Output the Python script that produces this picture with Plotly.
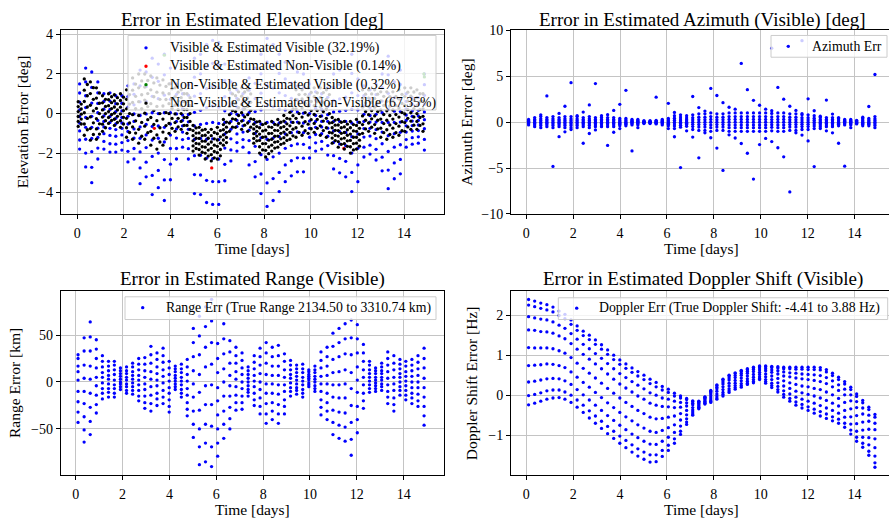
import plotly.graph_objects as go

FONT = "Liberation Serif"

# ---------------------------------------------------------------- data
# pass times [days] shared by the visible-only panels
t_vis = [0.10, 0.36, 0.62, 0.88, 1.14, 1.40, 1.65, 1.91, 2.17, 2.43, 2.69, 2.95, 3.21, 3.47,
         3.73, 3.99, 4.25, 4.51, 4.76, 5.02, 5.28, 5.54, 5.80, 6.06, 6.32, 6.58, 6.84, 7.10,
         7.36, 7.62, 7.87, 8.13, 8.39, 8.65, 8.91, 9.17, 9.43, 9.69, 9.95, 10.21, 10.47, 10.73,
         10.98, 11.24, 11.50, 11.76, 12.02, 12.28, 12.54, 12.80, 13.06, 13.32, 13.58, 13.84,
         14.09, 14.35, 14.61, 14.87]

# elevation error [deg], visible & estimated visible (one list per pass)
elev_vis = [
    [1.50, 1.04, 0.58, 0.18, -0.15, -0.48, -0.88, -1.34, -1.80],
    [2.30, 1.60, 0.90, 0.30, -0.20, -0.70, -1.30, -2.00, -2.70],
    [2.10, 1.32, 0.53, -0.14, -0.70, -1.26, -1.93, -2.72, -3.50],
    [1.60, 1.05, 0.51, 0.04, -0.35, -0.74, -1.21, -1.75, -2.30],
    [1.00, 0.61, 0.22, -0.12, -0.40, -0.68, -1.02, -1.41, -1.80],
    [1.05, 0.63, 0.21, -0.15, -0.45, -0.75, -1.11, -1.53, -1.95],
    [0.90, 0.50, 0.10, -0.24, -0.53, -0.81, -1.15, -1.55, -1.95],
    [0.90, 0.52, 0.13, -0.20, -0.48, -0.75, -1.08, -1.47, -1.85],
    [1.40, 0.86, 0.32, -0.14, -0.53, -0.91, -1.37, -1.91, -2.45],
    [1.50, 0.97, 0.44, -0.02, -0.40, -0.78, -1.24, -1.77, -2.30],
    [2.20, 1.40, 0.59, -0.10, -0.68, -1.25, -1.94, -2.75, -3.55],
    [2.10, 1.36, 0.62, -0.02, -0.55, -1.08, -1.72, -2.46, -3.20],
    [2.80, 1.83, 0.87, 0.04, -0.65, -1.34, -2.17, -3.13, -4.10],
    [2.50, 1.63, 0.75, 0.00, -0.63, -1.25, -2.00, -2.88, -3.75],
    [3.00, 1.96, 0.93, 0.04, -0.70, -1.44, -2.33, -3.36, -4.40],
    [2.30, 1.51, 0.72, 0.04, -0.53, -1.09, -1.77, -2.56, -3.35],
    [1.50, 0.97, 0.44, -0.02, -0.40, -0.78, -1.24, -1.77, -2.30],
    [1.00, 0.62, 0.24, -0.08, -0.35, -0.62, -0.94, -1.32, -1.70],
    [1.45, 0.93, 0.41, -0.05, -0.42, -0.80, -1.26, -1.78, -2.30],
    [2.80, 1.84, 0.88, 0.06, -0.63, -1.31, -2.13, -3.09, -4.05],
    [3.00, 2.01, 1.01, 0.16, -0.55, -1.26, -2.11, -3.11, -4.10],
    [3.50, 2.38, 1.26, 0.30, -0.50, -1.30, -2.26, -3.38, -4.50],
    [3.70, 2.54, 1.38, 0.38, -0.45, -1.28, -2.28, -3.44, -4.60],
    [3.60, 2.45, 1.30, 0.32, -0.50, -1.32, -2.30, -3.45, -4.60],
    [2.50, 1.67, 0.85, 0.14, -0.45, -1.04, -1.75, -2.57, -3.40],
    [1.60, 1.04, 0.48, 0.00, -0.40, -0.80, -1.28, -1.84, -2.40],
    [1.20, 0.77, 0.33, -0.04, -0.35, -0.66, -1.03, -1.47, -1.90],
    [1.00, 0.62, 0.24, -0.08, -0.35, -0.62, -0.94, -1.32, -1.70],
    [1.80, 1.18, 0.57, 0.04, -0.40, -0.84, -1.37, -1.98, -2.60],
    [2.30, 1.53, 0.76, 0.10, -0.45, -1.00, -1.66, -2.43, -3.20],
    [3.00, 2.01, 1.03, 0.18, -0.53, -1.23, -2.08, -3.06, -4.05],
    [3.80, 2.61, 1.42, 0.40, -0.45, -1.30, -2.32, -3.51, -4.70],
    [3.50, 2.39, 1.29, 0.34, -0.45, -1.24, -2.19, -3.29, -4.40],
    [3.00, 2.03, 1.05, 0.22, -0.48, -1.17, -2.00, -2.98, -3.95],
    [2.60, 1.75, 0.91, 0.18, -0.43, -1.03, -1.76, -2.60, -3.45],
    [2.30, 1.54, 0.77, 0.12, -0.43, -0.97, -1.62, -2.39, -3.15],
    [2.10, 1.39, 0.69, 0.08, -0.43, -0.93, -1.54, -2.24, -2.95],
    [2.00, 1.31, 0.61, 0.02, -0.48, -0.97, -1.56, -2.26, -2.95],
    [1.50, 0.98, 0.45, 0.00, -0.38, -0.75, -1.20, -1.73, -2.25],
    [1.10, 0.68, 0.26, -0.10, -0.40, -0.70, -1.06, -1.48, -1.90],
    [1.00, 0.61, 0.22, -0.12, -0.40, -0.68, -1.02, -1.41, -1.80],
    [1.30, 0.82, 0.35, -0.06, -0.40, -0.74, -1.15, -1.62, -2.10],
    [2.00, 1.33, 0.66, 0.08, -0.40, -0.88, -1.46, -2.13, -2.80],
    [2.20, 1.47, 0.74, 0.12, -0.40, -0.92, -1.54, -2.27, -3.00],
    [2.40, 1.62, 0.83, 0.16, -0.40, -0.96, -1.63, -2.42, -3.20],
    [3.00, 2.03, 1.05, 0.22, -0.48, -1.17, -2.00, -2.98, -3.95],
    [2.60, 1.75, 0.91, 0.18, -0.43, -1.03, -1.76, -2.60, -3.45],
    [1.40, 0.90, 0.39, -0.04, -0.40, -0.76, -1.19, -1.70, -2.20],
    [1.20, 0.75, 0.29, -0.10, -0.43, -0.75, -1.14, -1.60, -2.05],
    [1.50, 0.96, 0.42, -0.04, -0.43, -0.81, -1.27, -1.81, -2.35],
    [2.00, 1.31, 0.63, 0.04, -0.45, -0.94, -1.53, -2.21, -2.90],
    [2.90, 1.96, 1.02, 0.22, -0.45, -1.12, -1.92, -2.86, -3.80],
    [2.40, 1.60, 0.80, 0.12, -0.45, -1.02, -1.70, -2.50, -3.30],
    [2.20, 1.47, 0.73, 0.10, -0.43, -0.95, -1.58, -2.32, -3.05],
    [1.00, 0.62, 0.24, -0.08, -0.35, -0.62, -0.94, -1.32, -1.70],
    [0.80, 0.47, 0.14, -0.14, -0.38, -0.61, -0.89, -1.22, -1.55],
    [0.80, 0.48, 0.16, -0.12, -0.35, -0.58, -0.86, -1.18, -1.50],
    [2.00, 1.46, 0.92, 0.46, 0.08, -0.31, -0.77, -1.31, -1.85],
]

# non-visible & estimated non-visible samples
t_nonvis = [0.04, 0.17, 0.30, 0.43, 0.56, 0.69, 0.82, 0.95, 1.08, 1.21, 1.34, 1.47, 1.59, 1.72,
            1.85, 1.98, 2.11, 2.24, 2.37, 2.50, 2.63, 2.76, 2.89, 3.02, 3.15, 3.28, 3.41, 3.54,
            3.67, 3.80, 3.93, 4.06, 4.19, 4.32, 4.45, 4.58, 4.70, 4.83, 4.96, 5.09, 5.22, 5.35,
            5.48, 5.61, 5.74, 5.87, 6.00, 6.13, 6.26, 6.39, 6.52, 6.65, 6.78, 6.91, 7.04, 7.17,
            7.30, 7.43, 7.56, 7.69, 7.81, 7.94, 8.07, 8.20, 8.33, 8.46, 8.59, 8.72, 8.85, 8.98,
            9.11, 9.24, 9.37, 9.50, 9.63, 9.76, 9.89, 10.02, 10.15, 10.28, 10.41, 10.54, 10.67,
            10.80, 10.92, 11.05, 11.18, 11.31, 11.44, 11.57, 11.70, 11.83, 11.96, 12.09, 12.22,
            12.35, 12.48, 12.61, 12.74, 12.87, 13.00, 13.13, 13.26, 13.39, 13.52, 13.65, 13.78,
            13.91, 14.03, 14.16, 14.29, 14.42, 14.55, 14.68, 14.81]
elev_nonvis = [
    [-0.65, -0.40, -0.15, 0.10, 0.35, 0.60], [-0.53, -0.28, -0.03, 0.23, 0.48],
    [-1.10, -0.53, 0.04, 0.61, 1.18, 1.75], [-0.82, -0.25, 0.33, 0.90, 1.47],
    [-1.35, -0.76, -0.17, 0.42, 1.01, 1.60], [-1.06, -0.47, 0.13, 0.72, 1.31],
    [-1.30, -0.78, -0.26, 0.26, 0.78, 1.30], [-1.04, -0.52, 0.00, 0.52, 1.04],
    [-0.90, -0.54, -0.18, 0.18, 0.54, 0.90], [-0.72, -0.36, 0.00, 0.36, 0.72],
    [-0.50, -0.20, 0.10, 0.40, 0.70, 1.00], [-0.35, -0.05, 0.25, 0.55, 0.85],
    [-0.60, -0.29, 0.02, 0.33, 0.64, 0.95], [-0.45, -0.14, 0.18, 0.49, 0.80],
    [-0.70, -0.36, -0.02, 0.32, 0.66, 1.00], [-0.53, -0.19, 0.15, 0.49, 0.83],
    [-1.20, -0.72, -0.24, 0.24, 0.72, 1.20], [-0.96, -0.48, 0.00, 0.48, 0.96],
    [-1.30, -0.68, -0.06, 0.56, 1.18, 1.80], [-0.99, -0.37, 0.25, 0.87, 1.49],
    [-1.50, -0.80, -0.10, 0.60, 1.30, 2.00], [-1.15, -0.45, 0.25, 0.95, 1.65],
    [-1.30, -0.64, 0.02, 0.68, 1.34, 2.00], [-0.97, -0.31, 0.35, 1.01, 1.67],
    [-1.60, -0.90, -0.20, 0.50, 1.20, 1.90], [-1.25, -0.55, 0.15, 0.85, 1.55],
    [-1.80, -1.08, -0.36, 0.36, 1.08, 1.80], [-1.44, -0.72, 0.00, 0.72, 1.44],
    [-1.60, -0.94, -0.28, 0.38, 1.04, 1.70], [-1.27, -0.61, 0.05, 0.71, 1.37],
    [-1.00, -0.50, 0.00, 0.50, 1.00, 1.50], [-0.75, -0.25, 0.25, 0.75, 1.25],
    [-0.90, -0.46, -0.02, 0.42, 0.86, 1.30], [-0.68, -0.24, 0.20, 0.64, 1.08],
    [-0.80, -0.40, 0.00, 0.40, 0.80, 1.20], [-0.60, -0.20, 0.20, 0.60, 1.00],
    [-1.00, -0.60, -0.20, 0.20, 0.60, 1.00], [-0.80, -0.40, 0.00, 0.40, 0.80],
    [-1.90, -1.64, -1.38, -1.12, -0.86, -0.60], [-1.77, -1.51, -1.25, -0.99, -0.73],
    [-2.10, -1.82, -1.54, -1.26, -0.98, -0.70], [-1.96, -1.68, -1.40, -1.12, -0.84],
    [-2.30, -2.00, -1.70, -1.40, -1.10, -0.80], [-2.15, -1.85, -1.55, -1.25, -0.95],
    [-2.40, -2.08, -1.76, -1.44, -1.12, -0.80], [-2.24, -1.92, -1.60, -1.28, -0.96],
    [-2.30, -1.98, -1.66, -1.34, -1.02, -0.70], [-2.14, -1.82, -1.50, -1.18, -0.86],
    [-1.60, -1.34, -1.08, -0.82, -0.56, -0.30], [-1.47, -1.21, -0.95, -0.69, -0.43],
    [-0.90, -0.48, -0.06, 0.36, 0.78, 1.20], [-0.69, -0.27, 0.15, 0.57, 0.99],
    [-0.70, -0.30, 0.10, 0.50, 0.90, 1.30], [-0.50, -0.10, 0.30, 0.70, 1.10],
    [-0.80, -0.38, 0.04, 0.46, 0.88, 1.30], [-0.59, -0.17, 0.25, 0.67, 1.09],
    [-0.90, -0.48, -0.06, 0.36, 0.78, 1.20], [-0.69, -0.27, 0.15, 0.57, 0.99],
    [-1.50, -1.26, -1.02, -0.78, -0.54, -0.30], [-1.38, -1.14, -0.90, -0.66, -0.42],
    [-2.00, -1.68, -1.36, -1.04, -0.72, -0.40], [-1.84, -1.52, -1.20, -0.88, -0.56],
    [-2.20, -1.86, -1.52, -1.18, -0.84, -0.50], [-2.03, -1.69, -1.35, -1.01, -0.67],
    [-1.90, -1.60, -1.30, -1.00, -0.70, -0.40], [-1.75, -1.45, -1.15, -0.85, -0.55],
    [-1.70, -1.42, -1.14, -0.86, -0.58, -0.30], [-1.56, -1.28, -1.00, -0.72, -0.44],
    [-1.50, -1.22, -0.94, -0.66, -0.38, -0.10], [-1.36, -1.08, -0.80, -0.52, -0.24],
    [-1.30, -0.96, -0.62, -0.28, 0.06, 0.40], [-1.13, -0.79, -0.45, -0.11, 0.23],
    [-1.20, -0.72, -0.24, 0.24, 0.72, 1.20], [-0.96, -0.48, 0.00, 0.48, 0.96],
    [-1.10, -0.64, -0.18, 0.28, 0.74, 1.20], [-0.87, -0.41, 0.05, 0.51, 0.97],
    [-1.00, -0.54, -0.08, 0.38, 0.84, 1.30], [-0.77, -0.31, 0.15, 0.61, 1.07],
    [-0.95, -0.50, -0.05, 0.40, 0.85, 1.30], [-0.75, -0.30, 0.15, 0.60, 1.05],
    [-1.10, -0.62, -0.14, 0.34, 0.82, 1.30], [-0.86, -0.38, 0.10, 0.58, 1.06],
    [-1.20, -0.72, -0.24, 0.24, 0.72, 1.20], [-0.96, -0.48, 0.00, 0.48, 0.96],
    [-1.50, -1.24, -0.98, -0.72, -0.46, -0.20], [-1.37, -1.11, -0.85, -0.59, -0.33],
    [-1.70, -1.42, -1.14, -0.86, -0.58, -0.30], [-1.56, -1.28, -1.00, -0.72, -0.44],
    [-1.80, -1.52, -1.24, -0.96, -0.68, -0.40], [-1.66, -1.38, -1.10, -0.82, -0.54],
    [-2.00, -1.68, -1.36, -1.04, -0.72, -0.40], [-1.84, -1.52, -1.20, -0.88, -0.56],
    [-1.80, -1.50, -1.20, -0.90, -0.60, -0.30], [-1.65, -1.35, -1.05, -0.75, -0.45],
    [-1.00, -0.56, -0.12, 0.32, 0.76, 1.20], [-0.78, -0.34, 0.10, 0.54, 0.98],
    [-0.90, -0.48, -0.06, 0.36, 0.78, 1.20], [-0.69, -0.27, 0.15, 0.57, 0.99],
    [-1.00, -0.56, -0.12, 0.32, 0.76, 1.20], [-0.78, -0.34, 0.10, 0.54, 0.98],
    [-1.20, -0.74, -0.28, 0.18, 0.64, 1.10], [-0.97, -0.51, -0.05, 0.41, 0.87],
    [-1.30, -0.82, -0.34, 0.14, 0.62, 1.10], [-1.06, -0.58, -0.10, 0.38, 0.86],
    [-1.20, -0.74, -0.28, 0.18, 0.64, 1.10], [-0.97, -0.51, -0.05, 0.41, 0.87],
    [-1.10, -0.64, -0.18, 0.28, 0.74, 1.20], [-0.87, -0.41, 0.05, 0.51, 0.97],
    [-0.90, -0.46, -0.02, 0.42, 0.86, 1.30], [-0.68, -0.24, 0.20, 0.64, 1.08],
    [-0.80, -0.38, 0.04, 0.46, 0.88, 1.30], [-0.59, -0.17, 0.25, 0.67, 1.09],
    [-0.80, -0.40, 0.00, 0.40, 0.80, 1.20], [-0.60, -0.20, 0.20, 0.60, 1.00],
    [-0.90, -0.52, -0.14, 0.24, 0.62, 1.00],
]

# rare classification mismatches
t_vis_est_nonvis = [3.30, 5.76, 11.42]
elev_vis_est_nonvis = [-0.75, -2.75, -1.77]
t_nonvis_est_vis = [3.73, 14.85, 14.87]
elev_nonvis_est_vis = [2.95, 2.00, 1.85]

# azimuth error [deg] per pass
az_err = [
    [0.3, 0.18, 0.09, 0.0, -0.09, -0.18, -0.3],
    [0.5, 0.3, 0.15, 0.0, -0.15, -0.3, -0.5],
    [0.8, 0.6, 0.36, 0.18, 0.0, -0.18, -0.36, -0.6],
    [2.85, 0.5, 0.3, 0.15, 0.0, -0.15, -0.3, -0.5],
    [0.6, 0.36, 0.18, 0.0, -0.18, -0.36, -0.6, -4.83],
    [0.95, 0.5, 0.3, 0.15, 0.0, -0.15, -0.3, -0.5, -1.58],
    [1.73, 0.6, 0.36, 0.18, 0.0, -0.18, -0.36, -0.6, -1.06],
    [4.3, 0.6, 0.36, 0.18, 0.0, -0.18, -0.36, -0.6, -0.81],
    [0.7, 0.6, 0.36, 0.18, 0.0, -0.18, -0.36, -0.6],
    [1.1, 0.5, 0.3, 0.15, 0.0, -0.15, -0.3, -0.5, -2.3],
    [1.87, 0.6, 0.36, 0.18, 0.0, -0.18, -0.36, -0.6, -1.24],
    [4.2, 0.5, 0.3, 0.15, 0.0, -0.15, -0.3, -0.5, -0.85],
    [0.7, 0.5, 0.3, 0.15, 0.0, -0.15, -0.3, -0.5],
    [0.81, 0.5, 0.3, 0.15, 0.0, -0.15, -0.3, -0.5, -2.54],
    [1.27, 0.5, 0.3, 0.15, 0.0, -0.15, -0.3, -0.5, -1.1],
    [1.94, 0.4, 0.24, 0.12, 0.0, -0.12, -0.24, -0.4, -0.7],
    [3.46, 0.4, 0.24, 0.12, 0.0, -0.12, -0.24, -0.4],
    [0.3, 0.18, 0.09, 0.0, -0.09, -0.18, -0.3, -3.14],
    [0.3, 0.18, 0.09, 0.0, -0.09, -0.18, -0.3, -0.6],
    [0.15, 0.09, 0.04, 0.0, -0.04, -0.09, -0.15],
    [0.15, 0.09, 0.04, 0.0, -0.04, -0.09, -0.15],
    [2.72, 0.2, 0.12, 0.06, 0.0, -0.06, -0.12, -0.2],
    [0.3, 0.18, 0.09, 0.0, -0.09, -0.18, -0.3],
    [2.05, 0.4, 0.24, 0.12, 0.0, -0.12, -0.24, -0.4, -0.7],
    [1.06, 0.7, 0.42, 0.21, 0.0, -0.21, -0.42, -0.7, -1.59],
    [0.8, 0.55, 0.33, 0.16, 0.0, -0.16, -0.33, -0.55, -4.95],
    [0.7, 0.45, 0.27, 0.13, 0.0, -0.13, -0.27, -0.45, -0.95],
    [2.79, 0.8, 0.48, 0.24, 0.0, -0.24, -0.48, -0.8, -1.63],
    [1.59, 0.9, 0.54, 0.27, 0.0, -0.27, -0.54, -0.9, -3.89],
    [1.2, 0.9, 0.54, 0.27, 0.0, -0.27, -0.54, -0.9, -1.17],
    [3.67, 1.0, 0.6, 0.3, 0.0, -0.3, -0.6, -1.0, -1.7],
    [2.9, 0.9, 0.54, 0.27, 0.0, -0.27, -0.54, -0.9, -2.83],
    [2.12, 0.9, 0.54, 0.27, 0.0, -0.27, -0.54, -0.9, -5.26],
    [1.62, 1.0, 0.6, 0.3, 0.0, -0.3, -0.6, -1.0, -1.38],
    [1.41, 1.0, 0.6, 0.3, 0.0, -0.3, -0.6, -1.0, -1.73],
    [6.39, 1.0, 0.6, 0.3, 0.0, -0.3, -0.6, -1.0, -2.33],
    [3.53, 1.0, 0.6, 0.3, 0.0, -0.3, -0.6, -1.0, -3.39],
    [2.37, 1.0, 0.6, 0.3, 0.0, -0.3, -0.6, -1.0, -6.2],
    [1.84, 1.0, 0.6, 0.3, 0.0, -0.3, -0.6, -1.0, -2.44],
    [1.41, 1.0, 0.6, 0.3, 0.0, -0.3, -0.6, -1.0, -1.77],
    [8.05, 1.24, 0.95, 0.57, 0.28, 0.0, -0.28, -0.57, -0.95, -2.12],
    [3.78, 1.0, 0.6, 0.3, 0.0, -0.3, -0.6, -1.0, -2.79],
    [2.5, 1.0, 0.6, 0.3, 0.0, -0.3, -0.6, -1.0, -3.78],
    [1.73, 0.9, 0.54, 0.27, 0.0, -0.27, -0.54, -0.9, -7.6],
    [1.27, 0.9, 0.54, 0.27, 0.0, -0.27, -0.54, -0.9, -1.17],
    [8.87, 0.92, 0.8, 0.48, 0.24, 0.0, -0.24, -0.48, -0.8, -1.41],
    [2.54, 0.8, 0.48, 0.24, 0.0, -0.24, -0.48, -0.8, -2.05],
    [1.24, 0.7, 0.42, 0.21, 0.0, -0.21, -0.42, -0.7, -4.84],
    [0.64, 0.5, 0.3, 0.15, 0.0, -0.15, -0.3, -0.5, -0.7],
    [2.4, 0.5, 0.3, 0.15, 0.0, -0.15, -0.3, -0.5, -0.95],
    [0.88, 0.5, 0.3, 0.15, 0.0, -0.15, -0.3, -0.5, -1.17],
    [0.5, 0.4, 0.24, 0.12, 0.0, -0.12, -0.24, -0.4, -2.3],
    [0.3, 0.18, 0.09, 0.0, -0.09, -0.18, -0.3, -4.8],
    [0.3, 0.18, 0.09, 0.0, -0.09, -0.18, -0.3, -0.6],
    [0.2, 0.12, 0.06, 0.0, -0.06, -0.12, -0.2],
    [0.53, 0.4, 0.24, 0.12, 0.0, -0.12, -0.24, -0.4],
    [1.7, 0.4, 0.24, 0.12, 0.0, -0.12, -0.24, -0.4],
    [5.19, 0.6, 0.36, 0.18, 0.0, -0.18, -0.36, -0.6],
]

# range error [km] per pass
range_err = [
    [29, 25, 17, 11, 2, -10, -21, -32, -43], [47, 33, 18, 4, -10, -23, -37, -51, -64],
    [64, 48, 33, 17, 3, -12, -27, -42, -56], [45, 35, 25, 15, 5, -4, -14, -24, -33],
    [28, 22, 16, 10, 5, -1, -7, -12, -18], [22, 17, 12, 7, 3, -2, -7, -11, -16],
    [22, 18, 13, 8, 2, -3, -7, -12, -16], [15, 12, 9, 6, 3, 0, -2, -5, -8],
    [16, 12, 9, 5, 2, -2, -5, -9, -12], [20, 16, 11, 7, 3, -1, -5, -9, -13],
    [25, 19, 13, 7, 2, -3, -9, -15, -20], [26, 19, 12, 5, -2, -8, -15, -22, -28],
    [38, 29, 20, 11, 3, -5, -14, -23, -31], [31, 24, 16, 9, 2, -4, -12, -18, -25],
    [36, 28, 21, 13, 6, -1, -9, -16, -23], [22, 15, 8, 1, -6, -12, -19, -26, -32],
    [17, 14, 11, 7, 4, 1, -2, -5, -8], [19, 14, 10, 5, 1, -3, -8, -12, -16],
    [24, 16, 8, 1, -7, -14, -22, -29, -36], [57, 42, 27, 12, -2, -16, -31, -45, -59],
    [70, 49, 29, 8, -11, -30, -50, -69, -88], [80, 59, 37, 16, -4, -24, -45, -65, -85],
    [88, 65, 42, 19, -3, -24, -47, -69, -90], [41, 25, 10, -6, -20, -35, -50, -65, -79],
    [62, 46, 30, 14, 0, -15, -31, -45, -60], [44, 32, 20, 7, -4, -15, -27, -39, -50],
    [37, 28, 20, 11, 3, -5, -14, -22, -30], [31, 23, 15, 8, 0, -7, -15, -22, -29],
    [16, 12, 8, 4, 0, -4, -8, -11, -15], [28, 21, 14, 7, 1, -5, -12, -19, -25],
    [36, 27, 18, 9, 0, -8, -17, -26, -34], [42, 31, 20, 8, -2, -12, -23, -34, -44],
    [37, 27, 17, 7, -2, -12, -22, -31, -40], [39, 28, 17, 7, -3, -13, -24, -34, -44],
    [30, 22, 13, 5, -3, -10, -19, -26, -34], [23, 18, 13, 8, 4, -1, -6, -10, -15],
    [18, 14, 10, 6, 2, -2, -6, -9, -13], [19, 14, 10, 5, 1, -3, -8, -12, -16],
    [13, 11, 8, 6, 4, 2, -1, -3, -5], [17, 13, 10, 6, 3, 0, -4, -7, -10],
    [32, 23, 15, 6, -2, -10, -19, -27, -35], [37, 27, 17, 7, -2, -12, -22, -31, -40],
    [52, 38, 24, 10, -3, -16, -30, -43, -56], [57, 42, 27, 11, -3, -17, -32, -46, -60],
    [62, 46, 30, 13, -2, -17, -33, -48, -63], [66, 47, 29, 10, -7, -25, -43, -61, -78],
    [61, 46, 31, 16, 2, -11, -26, -40, -54], [40, 31, 22, 13, 5, -3, -12, -20, -28],
    [22, 18, 13, 9, 5, 1, -3, -7, -11], [15, 12, 9, 5, 2, -1, -4, -7, -10],
    [20, 16, 12, 9, 5, 2, -2, -5, -9], [32, 25, 18, 11, 4, -3, -10, -16, -23],
    [28, 20, 13, 5, -2, -9, -17, -24, -31], [24, 19, 14, 9, 5, 0, -5, -9, -14],
    [22, 17, 11, 6, 1, -4, -9, -14, -19], [24, 18, 12, 6, 0, -6, -12, -17, -23],
    [28, 21, 14, 7, 0, -6, -13, -20, -26], [36, 25, 15, 4, -6, -16, -26, -36, -46],
]

# doppler shift error [Hz] per pass
doppler_err = [
    [2.39, 2.25, 1.96, 1.63, 1.19, 0.74, 0.33, -0.01, -0.24],
    [2.35, 2.21, 1.93, 1.62, 1.18, 0.75, 0.35, 0.02, -0.20],
    [2.30, 2.17, 1.90, 1.59, 1.18, 0.76, 0.38, 0.06, -0.15],
    [2.26, 2.13, 1.88, 1.58, 1.18, 0.78, 0.41, 0.11, -0.10],
    [2.20, 2.08, 1.83, 1.55, 1.16, 0.77, 0.42, 0.13, -0.07],
    [2.10, 1.99, 1.75, 1.48, 1.11, 0.74, 0.41, 0.13, -0.06],
    [2.02, 1.91, 1.67, 1.41, 1.05, 0.69, 0.36, 0.08, -0.10],
    [1.88, 1.77, 1.54, 1.29, 0.94, 0.58, 0.27, 0.00, -0.18],
    [1.73, 1.62, 1.40, 1.15, 0.80, 0.45, 0.14, -0.12, -0.30],
    [1.60, 1.49, 1.27, 1.02, 0.67, 0.32, 0.01, -0.25, -0.43],
    [1.50, 1.39, 1.16, 0.90, 0.55, 0.20, -0.12, -0.39, -0.57],
    [1.38, 1.27, 1.04, 0.78, 0.43, 0.07, -0.25, -0.52, -0.70],
    [1.26, 1.15, 0.92, 0.66, 0.30, -0.06, -0.38, -0.65, -0.83],
    [1.13, 1.02, 0.79, 0.53, 0.17, -0.19, -0.51, -0.78, -0.96],
    [1.00, 0.89, 0.66, 0.40, 0.05, -0.31, -0.63, -0.90, -1.08],
    [0.88, 0.77, 0.54, 0.28, -0.07, -0.43, -0.75, -1.02, -1.20],
    [0.78, 0.67, 0.44, 0.18, -0.18, -0.54, -0.86, -1.13, -1.31],
    [0.68, 0.57, 0.34, 0.08, -0.28, -0.64, -0.97, -1.24, -1.42],
    [0.59, 0.48, 0.25, -0.02, -0.38, -0.74, -1.06, -1.34, -1.52],
    [0.50, 0.39, 0.16, -0.10, -0.46, -0.82, -1.15, -1.42, -1.60],
    [0.40, 0.29, 0.06, -0.20, -0.55, -0.90, -1.22, -1.49, -1.67],
    [0.32, 0.21, 0.00, -0.25, -0.59, -0.93, -1.23, -1.49, -1.66],
    [0.22, 0.13, -0.07, -0.28, -0.58, -0.88, -1.15, -1.38, -1.53],
    [0.15, 0.07, -0.10, -0.29, -0.55, -0.81, -1.05, -1.25, -1.38],
    [0.05, -0.02, -0.15, -0.31, -0.52, -0.74, -0.93, -1.09, -1.20],
    [-0.02, -0.07, -0.18, -0.30, -0.46, -0.62, -0.77, -0.90, -0.98],
    [-0.08, -0.11, -0.19, -0.27, -0.38, -0.49, -0.59, -0.67, -0.73],
    [-0.14, -0.16, -0.20, -0.24, -0.31, -0.37, -0.42, -0.47, -0.50],
    [-0.15, -0.16, -0.18, -0.21, -0.24, -0.27, -0.30, -0.32, -0.34],
    [-0.04, -0.05, -0.07, -0.09, -0.12, -0.15, -0.18, -0.20, -0.22],
    [0.12, 0.10, 0.07, 0.03, -0.02, -0.07, -0.12, -0.15, -0.18],
    [0.26, 0.24, 0.20, 0.16, 0.10, 0.03, -0.02, -0.07, -0.10],
    [0.40, 0.38, 0.33, 0.28, 0.21, 0.14, 0.07, 0.02, -0.02],
    [0.50, 0.48, 0.43, 0.38, 0.30, 0.23, 0.16, 0.11, 0.07],
    [0.56, 0.54, 0.49, 0.44, 0.37, 0.30, 0.24, 0.19, 0.15],
    [0.62, 0.60, 0.55, 0.50, 0.43, 0.36, 0.29, 0.24, 0.20],
    [0.66, 0.64, 0.60, 0.55, 0.48, 0.41, 0.35, 0.30, 0.27],
    [0.70, 0.68, 0.64, 0.59, 0.52, 0.45, 0.39, 0.34, 0.31],
    [0.73, 0.71, 0.68, 0.63, 0.57, 0.52, 0.46, 0.42, 0.39],
    [0.73, 0.71, 0.66, 0.61, 0.53, 0.46, 0.39, 0.34, 0.30],
    [0.72, 0.69, 0.63, 0.57, 0.48, 0.39, 0.30, 0.24, 0.19],
    [0.71, 0.68, 0.61, 0.53, 0.42, 0.31, 0.22, 0.14, 0.08],
    [0.70, 0.66, 0.58, 0.48, 0.36, 0.23, 0.11, 0.02, -0.05],
    [0.70, 0.66, 0.56, 0.46, 0.31, 0.17, 0.03, -0.08, -0.15],
    [0.70, 0.65, 0.55, 0.43, 0.27, 0.10, -0.05, -0.17, -0.25],
    [0.70, 0.65, 0.53, 0.41, 0.23, 0.06, -0.10, -0.23, -0.32],
    [0.70, 0.64, 0.52, 0.39, 0.21, 0.02, -0.15, -0.29, -0.38],
    [0.70, 0.64, 0.51, 0.37, 0.17, -0.02, -0.20, -0.35, -0.45],
    [0.69, 0.63, 0.49, 0.34, 0.14, -0.07, -0.26, -0.41, -0.52],
    [0.64, 0.58, 0.44, 0.29, 0.08, -0.13, -0.32, -0.47, -0.58],
    [0.55, 0.49, 0.36, 0.21, 0.01, -0.20, -0.38, -0.54, -0.64],
    [0.45, 0.39, 0.26, 0.12, -0.08, -0.27, -0.45, -0.60, -0.70],
    [0.34, 0.28, 0.15, 0.01, -0.18, -0.38, -0.55, -0.70, -0.80],
    [0.20, 0.14, 0.01, -0.14, -0.34, -0.54, -0.72, -0.87, -0.97],
    [0.03, -0.03, -0.16, -0.31, -0.51, -0.71, -0.90, -1.05, -1.15],
    [-0.13, -0.19, -0.32, -0.47, -0.67, -0.87, -1.05, -1.20, -1.30],
    [-0.30, -0.36, -0.50, -0.65, -0.85, -1.06, -1.24, -1.40, -1.50],
    [-0.48, -0.55, -0.70, -0.86, -1.09, -1.31, -1.52, -1.69, -1.80],
]

x_ticks = [0, 2, 4, 6, 8, 10, 12, 14]

BLUE, RED, GREEN, BLACK = "#0000ff", "#ff0000", "#008000", "#000000"
ELEV_LABELS = ["Visible &amp; Estimated Visible (32.19%)",
               "Visible &amp; Estimated Non-Visible (0.14%)",
               "Non-Visible &amp; Estimated Visible (0.32%)",
               "Non-Visible &amp; Estimated Non-Visible (67.35%)"]
AZ_LABEL = "Azimuth Err"
RANGE_LABEL = "Range Err (True Range 2134.50 to 3310.74 km)"
DOPPLER_LABEL = "Doppler Err (True Doppler Shift: -4.41 to 3.88 Hz)"


def flatten(times, groups):
    xs, ys = [], []
    for t, g in zip(times, groups):
        xs.extend([t] * len(g))
        ys.extend(g)
    return xs, ys


# ---------------------------------------------------------------- figure
fig = go.Figure()
MS = 3.3


def dots(x, y, color, name, xa, ya):
    return go.Scatter(x=x, y=y, mode="markers", name=name, xaxis=xa, yaxis=ya,
                      showlegend=False,
                      marker=dict(size=MS, color=color, line=dict(width=0)),
                      hoverinfo="skip")


ex, ey = flatten(t_vis, elev_vis)
fig.add_trace(dots(ex, ey, BLUE, ELEV_LABELS[0], "x", "y"))
fig.add_trace(dots(t_vis_est_nonvis, elev_vis_est_nonvis, RED, ELEV_LABELS[1], "x", "y"))
fig.add_trace(dots(t_nonvis_est_vis, elev_nonvis_est_vis, GREEN, ELEV_LABELS[2], "x", "y"))
nx, ny = flatten(t_nonvis, elev_nonvis)
fig.add_trace(dots(nx, ny, BLACK, ELEV_LABELS[3], "x", "y"))

ax, ay = flatten(t_vis, az_err)
fig.add_trace(dots(ax, ay, BLUE, AZ_LABEL, "x2", "y2"))

rx, ry = flatten(t_vis, range_err)
fig.add_trace(dots(rx, ry, BLUE, RANGE_LABEL, "x3", "y3"))

dx, dy = flatten(t_vis, doppler_err)
fig.add_trace(dots(dx, dy, BLUE, DOPPLER_LABEL, "x4", "y4"))

# ---------------------------------------------------------------- layout
W, H = 889, 527
LEFT = [60.7 / W, 444 / W]
RIGHT = [511 / W, 1.0]
TOP = [1 - 213 / H, 1 - 24 / H]
BOTTOM = [1 - 482 / H, 1 - 292 / H]

GRID = "#c4c4c4"
TICKFONT = dict(size=14, family=FONT, color="black")


def xaxis(domain, anchor, rng):
    return dict(domain=domain, anchor=anchor, range=rng, tickvals=x_ticks,
                showline=True, linecolor="black", linewidth=1, mirror=True,
                ticks="outside", ticklen=4, tickwidth=1, tickcolor="black",
                ticklabelstandoff=2,
                showgrid=True, gridcolor=GRID, gridwidth=1, zeroline=False,
                tickfont=TICKFONT)


def yaxis(domain, anchor, rng, ticks, mirror=True):
    return dict(domain=domain, anchor=anchor, range=rng, tickvals=ticks,
                showline=True, linecolor="black", linewidth=1, mirror=mirror,
                ticks="outside", ticklen=4, tickwidth=1, tickcolor="black",
                showgrid=True, gridcolor=GRID, gridwidth=1, zeroline=False,
                tickfont=TICKFONT)


annotations = []
shapes = []


def text(s, x_px, y_px, size, angle=0, anchor="center"):
    annotations.append(dict(text=s, x=x_px / W, y=1 - y_px / H, xref="paper", yref="paper",
                            xanchor=anchor, yanchor="middle", showarrow=False,
                            textangle=angle, font=dict(size=size, family=FONT, color="black")))


def legend_box(x0, y0, x1, y1, entries, marker_x, text_x, rows):
    # framed, semi-transparent box drawn above the markers
    shapes.append(dict(type="rect", xref="paper", yref="paper", layer="above",
                       x0=x0 / W, x1=x1 / W, y0=1 - y1 / H, y1=1 - y0 / H,
                       line=dict(color="#cccccc", width=1),
                       fillcolor="rgba(255,255,255,0.8)"))
    r = 1.7
    for (label, color), ry in zip(entries, rows):
        shapes.append(dict(type="circle", xref="paper", yref="paper", layer="above",
                           x0=(marker_x - r) / W, x1=(marker_x + r) / W,
                           y0=1 - (ry + r) / H, y1=1 - (ry - r) / H,
                           line=dict(width=0), fillcolor=color))
        text(label, text_x, ry, 13.8, anchor="left")


legend_box(128, 29.3, 436, 106,
           [(ELEV_LABELS[0], BLUE), (ELEV_LABELS[1], RED),
            (ELEV_LABELS[2], GREEN), (ELEV_LABELS[3], BLACK)],
           146, 168, [42, 61, 80, 99])
legend_box(771, 29.3, 887, 51.7, [(AZ_LABEL, BLUE)], 788.3, 810, [40.5])
legend_box(125, 298.3, 436, 321.7, [(RANGE_LABEL, BLUE)], 142.7, 164, [309.5])
legend_box(558.3, 299.3, 887.7, 321.7, [(DOPPLER_LABEL, BLUE)], 576.7, 597, [310])

# panel titles
text("Error in Estimated Elevation [deg]", 252.4, 13, 19)
text("Error in Estimated Azimuth (Visible) [deg]", 702.5, 13, 19)
text("Error in Estimated Range (Visible)", 252.4, 280, 19)
text("Error in Estimated Doppler Shift (Visible)", 702.5, 280, 19)
# x-axis labels
for xc, yc in [(252, 249), (701.7, 249), (252, 517), (701.7, 517)]:
    text("Time [days]", xc, yc, 15.5)
# y-axis labels
text("Elevation Error [deg]", 22, 118.5, 15.5, -90)
text("Azimuth Error [deg]", 465.7, 118.5, 15.5, -90)
text("Range Error [km]", 15, 387, 15.5, -90)
text("Doppler Shift Error [Hz]", 472.3, 387, 15.5, -90)

fig.update_layout(
    width=W, height=H, autosize=False,
    margin=dict(l=0, r=0, t=0, b=0),
    paper_bgcolor="white", plot_bgcolor="white",
    font=dict(family=FONT, color="black"),
    xaxis=xaxis(LEFT, "y", [-0.71, 15.71]),
    yaxis=yaxis(TOP, "x", [-5.08, 4.21], [-4, -2, 0, 2, 4]),
    xaxis2=xaxis(RIGHT, "y2", [-0.65, 15.47]),
    yaxis2=yaxis(TOP, "x2", [-10, 10], [-10, -5, 0, 5, 10], mirror=False),
    xaxis3=xaxis(LEFT, "y3", [-0.64, 15.72]),
    yaxis3=yaxis(BOTTOM, "x3", [-99.3, 97.2], [-50, 0, 50]),
    xaxis4=xaxis(RIGHT, "y4", [-0.65, 15.47]),
    yaxis4=yaxis(BOTTOM, "x4", [-2.0, 2.61], [-1, 0, 1, 2], mirror=False),
    annotations=annotations,
    shapes=shapes,
    showlegend=False,
)

fig.write_html("out.html", config={"displayModeBar": False})
